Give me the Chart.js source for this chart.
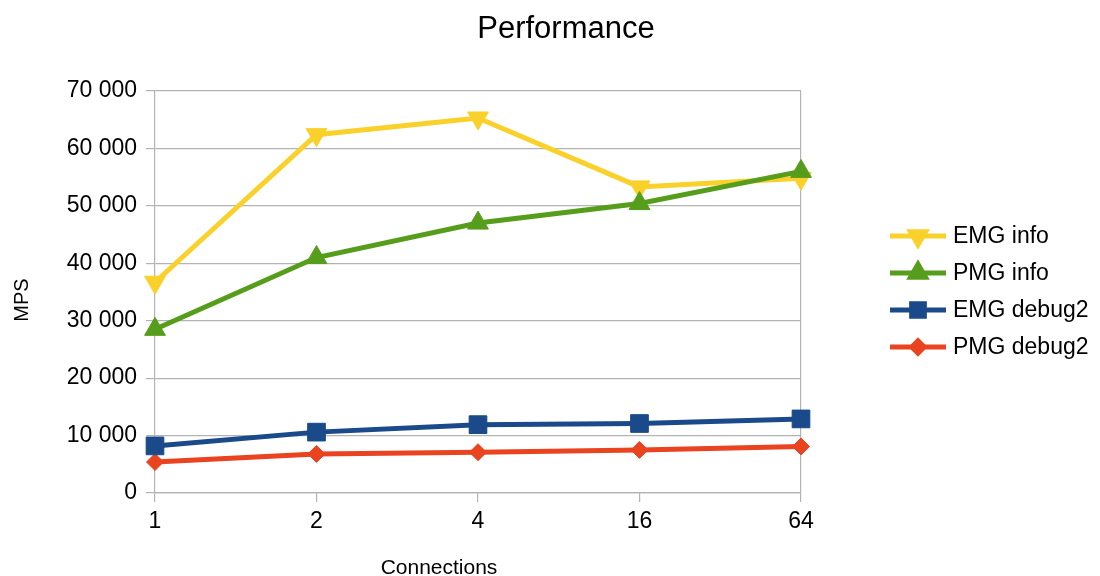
<!DOCTYPE html>
<html>
<head>
<meta charset="utf-8">
<script src="https://cdn.jsdelivr.net/npm/chart.js@4/dist/chart.umd.min.js"></script>
<style>
  html, body { margin: 0; padding: 0; background: #ffffff; }
  #wrap { width: 1100px; height: 576px; position: relative; }
</style>
</head>
<body>
<div id="wrap"><canvas id="perf"></canvas></div>
<script>
// Connections per run (category axis)
const connections = ['1', '2', '4', '16', '64'];

// Messages per second for each configuration
const emgInfo   = [36700, 62400, 65300, 53300, 54800];
const pmgInfo   = [28500, 41000, 47000, 50400, 56000];
const emgDebug2 = [8200, 10600, 11900, 12100, 12900];
const pmgDebug2 = [5400, 6800, 7100, 7500, 8100];

// Value axis ticks
const yTicks = [0, 10000, 20000, 30000, 40000, 50000, 60000, 70000];

const chartTitle = 'Performance';
const xTitle = 'Connections';
const yTitle = 'MPS';

const FONT = '"Liberation Sans", Arial, sans-serif';
const GRID = '#b3b3b3';

// "70000" -> "70 000"
function groupThousands(v) {
  return String(v).replace(/\B(?=(\d{3})+(?!\d))/g, ' ');
}

function series(label, data, color, style, rotation, radius, order) {
  return {
    label, data,
    borderColor: color,
    backgroundColor: color,
    pointBackgroundColor: color,
    pointBorderColor: color,
    borderWidth: 5,
    pointStyle: style,
    rotation: rotation,
    pointRadius: radius,
    pointHoverRadius: radius,
    pointBorderWidth: 1,
    tension: 0,
    fill: false,
    order: order
  };
}

// Title, axis titles and legend drawn on top of the chart
const decor = {
  id: 'decor',
  afterDraw(chart) {
    const ctx = chart.ctx;
    ctx.save();
    ctx.fillStyle = '#000000';

    ctx.font = '31px ' + FONT;
    ctx.textAlign = 'center';
    ctx.textBaseline = 'middle';
    ctx.fillText(chartTitle, 566, 29);

    ctx.font = '21px ' + FONT;
    ctx.fillText(xTitle, 439, 568);

    ctx.save();
    ctx.translate(22, 300);
    ctx.rotate(-Math.PI / 2);
    ctx.font = '20px ' + FONT;
    ctx.fillText(yTitle, 0, 0);
    ctx.restore();

    // legend
    const lx0 = 890, lx1 = 946, ly0 = 236, step = 37;
    chart.data.datasets.forEach((ds, i) => {
      const y = ly0 + i * step;
      ctx.strokeStyle = ds.borderColor;
      ctx.lineWidth = 5;
      ctx.beginPath();
      ctx.moveTo(lx0, y);
      ctx.lineTo(lx1, y);
      ctx.stroke();
      ctx.fillStyle = ds.borderColor;
      Chart.helpers.drawPoint(ctx, {
        pointStyle: ds.pointStyle,
        rotation: ds.rotation,
        radius: ds.pointRadius * 0.72,
        borderWidth: 1
      }, (lx0 + lx1) / 2, y);
      ctx.fillStyle = '#000000';
      ctx.font = '23px ' + FONT;
      ctx.textAlign = 'left';
      ctx.textBaseline = 'middle';
      ctx.fillText(ds.label, 953, y + 1);
    });
    ctx.restore();
  }
};

new Chart(document.getElementById('perf'), {
  type: 'line',
  data: {
    labels: connections,
    datasets: [
      series('EMG info', emgInfo, '#f9d12a', 'triangle', 180, 12, 2),
      series('PMG info', pmgInfo, '#579d1c', 'triangle', 0, 12, 1),
      series('EMG debug2', emgDebug2, '#1a4a8a', 'rect', 0, 12.5, 3),
      series('PMG debug2', pmgDebug2, '#ea4320', 'rectRot', 0, 8.5, 4)
    ]
  },
  options: {
    responsive: true,
    maintainAspectRatio: false,
    animation: false,
    layout: { padding: { top: 91, right: 299, bottom: 0, left: 0 } },
    plugins: {
      legend: { display: false },
      title: { display: false },
      tooltip: { enabled: false }
    },
    scales: {
      x: {
        type: 'category',
        offset: false,
        afterFit(scale) { scale.height = 83; },
        grid: {
          display: true,
          drawOnChartArea: true,
          color: (c) => (c.index === connections.length - 1 ? GRID : 'rgba(0,0,0,0)'),
          tickColor: GRID,
          tickLength: 9,
          lineWidth: 1.2
        },
        border: { display: true, color: GRID, width: 1.2 },
        ticks: {
          color: '#000000',
          font: { family: FONT, size: 23 },
          padding: 6,
          maxRotation: 0,
          autoSkip: false
        },
        title: { display: false }
      },
      y: {
        min: 0,
        max: 70000,
        afterFit(scale) { scale.width = 155; },
        afterBuildTicks(scale) { scale.ticks = yTicks.map(v => ({ value: v })); },
        grid: {
          color: GRID,
          tickColor: GRID,
          tickLength: 9,
          lineWidth: 1.2
        },
        border: { display: true, color: GRID, width: 1.2 },
        ticks: {
          color: '#000000',
          font: { family: FONT, size: 23 },
          padding: 9,
          callback: (v) => groupThousands(v)
        },
        title: { display: false }
      }
    }
  },
  plugins: [decor]
});
</script>
</body>
</html>
